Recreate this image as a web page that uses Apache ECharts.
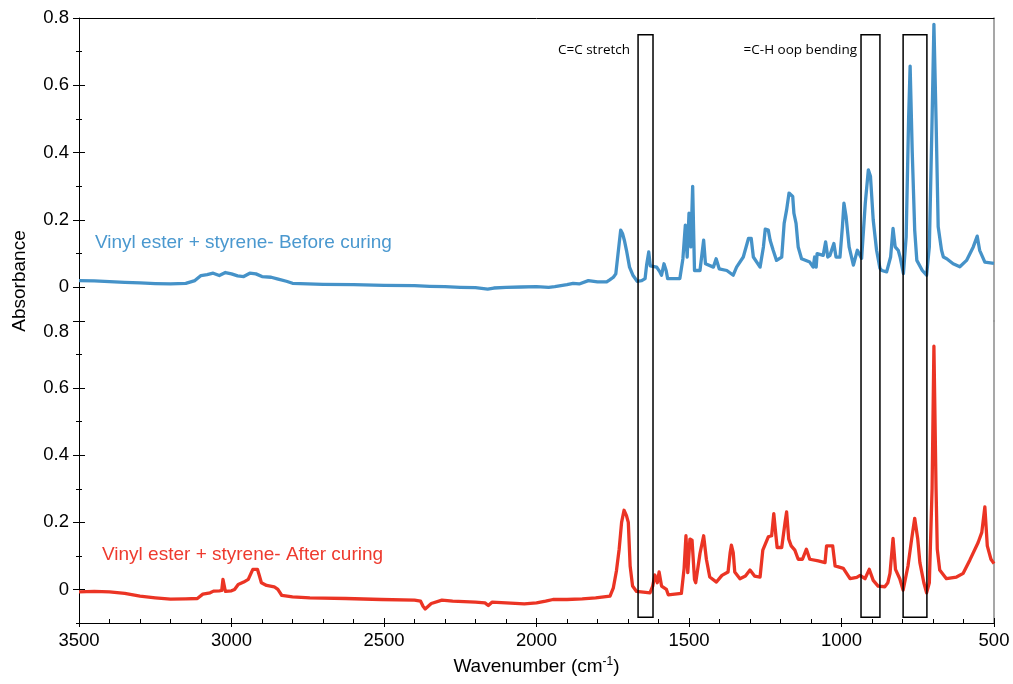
<!DOCTYPE html>
<html>
<head>
<meta charset="utf-8">
<script src="https://cdn.jsdelivr.net/npm/echarts@6/dist/echarts.min.js"></script>
<style>html,body{margin:0;padding:0;background:#fff}#c{width:1013px;height:684px}</style>
</head>
<body>
<div id="c"></div>
<script>
// ---- data ----
const beforeWavenumber = [3500,3450,3400,3350,3300,3250,3200,3150,3120,3100,3080,3060,3040,3020,3000,2980,2960,2940,2920,2900,2870,2850,2820,2800,2750,2700,2600,2500,2400,2350,2300,2250,2200,2160,2140,2100,2050,2000,1960,1940,1900,1880,1860,1830,1800,1770,1760,1748,1740,1729,1724,1718,1712,1705,1695,1684,1670,1655,1644,1639,1632,1627,1606,1595,1590,1582,1575,1570,1530,1520,1512,1506,1500,1494,1488,1482,1464,1452,1446,1420,1411,1401,1376,1355,1344,1322,1305,1296,1289,1267,1256,1250,1240,1234,1224,1213,1196,1188,1180,1172,1160,1156,1149,1142,1131,1104,1093,1088,1083,1080,1060,1052,1045,1038,1025,1018,1005,997,992,985,975,961,948,934,922,912,905,896,885,874,868,852,839,831,824,814,808,797,788,780,775,768,760,753,735,721,712,703,697,690,683,672,666,655,634,612,590,568,555,547,530,500];
const beforeAbsorbance = [0.020,0.019,0.017,0.015,0.013,0.011,0.010,0.012,0.020,0.035,0.038,0.042,0.035,0.044,0.040,0.034,0.032,0.042,0.040,0.032,0.030,0.025,0.018,0.012,0.010,0.009,0.008,0.006,0.005,0.003,0.002,0.000,-0.001,-0.005,-0.002,0.000,0.001,0.002,0.000,0.002,0.008,0.012,0.010,0.020,0.016,0.016,0.022,0.030,0.040,0.130,0.170,0.160,0.140,0.110,0.060,0.036,0.018,0.020,0.026,0.066,0.105,0.064,0.060,0.045,0.036,0.070,0.050,0.026,0.026,0.085,0.185,0.090,0.220,0.120,0.300,0.050,0.050,0.140,0.070,0.060,0.085,0.055,0.050,0.036,0.060,0.090,0.145,0.145,0.090,0.060,0.120,0.173,0.170,0.140,0.110,0.080,0.090,0.190,0.230,0.280,0.270,0.220,0.190,0.120,0.085,0.075,0.060,0.090,0.060,0.100,0.095,0.135,0.090,0.095,0.130,0.090,0.090,0.180,0.250,0.210,0.120,0.066,0.110,0.086,0.250,0.349,0.330,0.200,0.110,0.057,0.050,0.046,0.090,0.175,0.120,0.110,0.090,0.041,0.150,0.500,0.657,0.400,0.170,0.080,0.050,0.036,0.120,0.500,0.781,0.500,0.180,0.110,0.090,0.085,0.070,0.061,0.080,0.120,0.152,0.110,0.075,0.071];

const afterWavenumber = [3500,3450,3400,3350,3300,3250,3200,3150,3112,3094,3070,3059,3040,3032,3028,3022,3020,3000,2990,2978,2960,2945,2935,2930,2915,2910,2902,2885,2860,2848,2835,2800,2743,2700,2626,2509,2400,2380,2372,2365,2355,2345,2310,2275,2200,2169,2158,2146,2100,2040,2000,1970,1946,1900,1850,1806,1759,1748,1738,1729,1721,1713,1705,1699,1693,1685,1672,1628,1619,1612,1604,1598,1590,1574,1568,1525,1516,1510,1504,1497,1490,1482,1478,1464,1452,1443,1432,1410,1392,1372,1365,1361,1355,1350,1333,1315,1300,1285,1267,1258,1240,1229,1222,1215,1211,1196,1185,1180,1173,1165,1153,1142,1128,1115,1104,1076,1054,1049,1029,1021,994,972,950,939,923,909,896,880,858,848,841,831,823,809,798,782,770,760,750,743,730,721,712,703,697,690,686,678,656,623,601,579,552,540,530,522,510,500];
const afterAbsorbance = [-0.007,-0.006,-0.007,-0.012,-0.020,-0.025,-0.029,-0.028,-0.027,-0.014,-0.010,-0.005,-0.004,-0.003,0.030,0.030,-0.006,-0.004,0.000,0.015,0.022,0.030,0.050,0.060,0.060,0.045,0.020,0.012,0.008,0.000,-0.018,-0.022,-0.025,-0.026,-0.027,-0.030,-0.032,-0.035,-0.050,-0.058,-0.050,-0.042,-0.032,-0.035,-0.038,-0.040,-0.048,-0.038,-0.040,-0.043,-0.040,-0.035,-0.030,-0.030,-0.028,-0.025,-0.020,0.005,0.055,0.120,0.200,0.236,0.220,0.200,0.070,0.010,-0.006,-0.010,0.010,0.043,0.020,0.052,0.010,0.000,-0.016,-0.012,0.063,0.160,0.050,0.150,0.147,0.030,0.020,0.107,0.160,0.090,0.037,0.022,0.042,0.052,0.110,0.132,0.110,0.052,0.032,0.040,0.058,0.040,0.037,0.117,0.157,0.160,0.226,0.160,0.125,0.125,0.200,0.231,0.150,0.130,0.117,0.090,0.090,0.120,0.090,0.085,0.080,0.130,0.130,0.070,0.063,0.032,0.036,0.042,0.032,0.060,0.027,0.010,0.008,0.020,0.048,0.152,0.060,0.032,-0.002,0.070,0.150,0.212,0.150,0.080,0.020,-0.010,0.020,0.300,0.725,0.300,0.120,0.058,0.032,0.037,0.048,0.088,0.140,0.170,0.246,0.130,0.090,0.077];

const xTicks = [3500,3000,2500,2000,1500,1000,500];
const yMajorTicks = [0,0.2,0.4,0.6,0.8];
const yMinorTicks = [-0.1,0.1,0.3,0.5,0.7];
const seriesNames = ['Vinyl ester + styrene- Before curing','Vinyl ester + styrene- After curing'];
const bandLabels = ['C=C stretch','=C-H oop bending',''];
const bandRanges = [[1667,1618],[936,874],[798,720]];
const bandTopValue = 0.75;     // top panel units
const bandBottomValue = -0.083; // bottom panel units

// ---- chart ----
const FONT = '"Liberation Sans", Arial, Helvetica, sans-serif';
const BLUE = '#4592c8', RED = '#eb3424';
const zip = (a, b) => a.map((v, i) => [v, b[i]]);

const grids = [
  {left: 79, right: 19, top: 18, height: 303},
  {left: 79, right: 19, top: 321, height: 302}
];

const xAxes = [
  {gridIndex: 0, type: 'value', min: 500, max: 3500, inverse: true, position: 'top',
   axisLine: {show: true, onZero: false, lineStyle: {color: '#000', width: 1}}, axisTick: {show: false},
   axisLabel: {show: false}, splitLine: {show: false}},
  {gridIndex: 1, type: 'value', min: 500, max: 3500, interval: 500, inverse: true, position: 'bottom',
   axisLine: {show: true, onZero: false, lineStyle: {color: '#000', width: 1}},
   axisTick: {show: true, inside: true, length: 5, lineStyle: {color: '#000'}},
   minorTick: {show: true, splitNumber: 5, length: 4, lineStyle: {color: '#000'}},
   axisLabel: {fontSize: 18.5, color: '#000', fontFamily: FONT, margin: 8,
     customValues: xTicks, formatter: v => String(v)},
   splitLine: {show: false},
   name: 'Wavenumber (cm{sup|-1})', nameLocation: 'middle', nameGap: 33,
   nameTextStyle: {fontSize: 19, color: '#000', fontFamily: FONT,
     rich: {sup: {fontSize: 12, verticalAlign: 'top', padding: [0,0,10,0], color: '#000', fontFamily: FONT}}}},
  {gridIndex: 1, type: 'value', min: 500, max: 3500, interval: 500, inverse: true, position: 'bottom',
   axisLine: {show: false, onZero: false}, axisTick: {show: true, inside: false, length: 4, lineStyle: {color: '#000'}},
   axisLabel: {show: false}, splitLine: {show: false}}
];

const yAxes = [];
function addY(grid, extra) {
  yAxes.push(Object.assign({gridIndex: grid, type: 'value', min: -0.1, max: 0.8, position: 'left',
    axisLine: {show: false, onZero: false}, axisTick: {show: false}, axisLabel: {show: false}, splitLine: {show: false}}, extra));
  return yAxes.length - 1;
}
const yMain = [];
for (let g = 0; g < 2; g++) {
  yMain[g] = addY(g, {
    axisLine: {show: true, onZero: false, lineStyle: {color: '#000', width: 1}},
    axisTick: {show: true, inside: false, length: 6, customValues: yMajorTicks, lineStyle: {color: '#000'}},
    axisLabel: {show: true, fontSize: 18.5, color: '#000', fontFamily: FONT, margin: 10,
      customValues: g === 0 ? yMajorTicks : yMajorTicks.slice(0, 4),
      formatter: v => (Math.abs(v) < 1e-9 ? '0' : String(+v.toFixed(1)))}
  });
  addY(g, {axisTick: {show: true, inside: true, length: 6, customValues: yMajorTicks, lineStyle: {color: '#000'}}});
  addY(g, {axisTick: {show: true, inside: false, length: 3, customValues: yMinorTicks, lineStyle: {color: '#000'}}});
  addY(g, {axisTick: {show: true, inside: true, length: 3, customValues: yMinorTicks, lineStyle: {color: '#000'}}});
  addY(g, {position: 'right', axisLine: {show: true, onZero: false, lineStyle: {color: '#8a8a8a', width: 1.5}}});
}

const chart = echarts.init(document.getElementById('c'), null, {renderer: 'canvas'});
chart.setOption({
  animation: false,
  backgroundColor: '#fff',
  grid: grids,
  xAxis: xAxes,
  yAxis: yAxes,
  series: [
    {name: seriesNames[0], type: 'line', xAxisIndex: 0, yAxisIndex: yMain[0], showSymbol: false,
     data: zip(beforeWavenumber, beforeAbsorbance), lineStyle: {color: BLUE, width: 3.3, join: 'round'}, itemStyle: {color: BLUE}, z: 3},
    {name: seriesNames[1], type: 'line', xAxisIndex: 1, yAxisIndex: yMain[1], showSymbol: false,
     data: zip(afterWavenumber, afterAbsorbance), lineStyle: {color: RED, width: 3.3, join: 'round'}, itemStyle: {color: RED}, z: 3}
  ]
});

// annotations positioned through the axes' own scales
const graphics = [];
const yTopPx = chart.convertToPixel({yAxisIndex: yMain[0]}, bandTopValue);
const yBotPx = chart.convertToPixel({yAxisIndex: yMain[1]}, bandBottomValue);
const labelOffsets = [8, 4, 4];
bandRanges.forEach((r, i) => {
  const x1 = chart.convertToPixel({xAxisIndex: 1}, r[0]);
  const x2 = chart.convertToPixel({xAxisIndex: 1}, r[1]);
  graphics.push({type: 'rect', z: 10, shape: {x: x1, y: yTopPx, width: x2 - x1, height: yBotPx - yTopPx},
    style: {fill: null, stroke: '#000', lineWidth: 1.5}});
  if (bandLabels[i]) {
    graphics.push({type: 'text', z: 10, x: x1 - labelOffsets[i], y: yTopPx + 15,
      style: {text: bandLabels[i], fill: '#000', font: '13.5px "Open Sans", sans-serif', align: 'right', verticalAlign: 'middle'}});
  }
});
graphics.push({type: 'text', x: 95, y: 243, style: {text: seriesNames[0], fill: '#4a98cf', font: '19px ' + FONT, verticalAlign: 'middle'}});
graphics.push({type: 'text', x: 102, y: 555, style: {text: seriesNames[1], fill: '#ee3a2e', font: '19px ' + FONT, verticalAlign: 'middle'}});
graphics.push({type: 'text', x: 20, y: 281, rotation: Math.PI / 2,
  style: {text: 'Absorbance', fill: '#000', font: '19px ' + FONT, align: 'center', verticalAlign: 'middle'}});
const y08 = chart.convertToPixel({yAxisIndex: yMain[1]}, 0.8);
graphics.push({type: 'text', x: 69, y: y08 + 11,
  style: {text: '0.8', fill: '#000', font: '18.5px ' + FONT, align: 'right', verticalAlign: 'middle'}});
chart.setOption({graphic: graphics});
</script>
</body>
</html>
